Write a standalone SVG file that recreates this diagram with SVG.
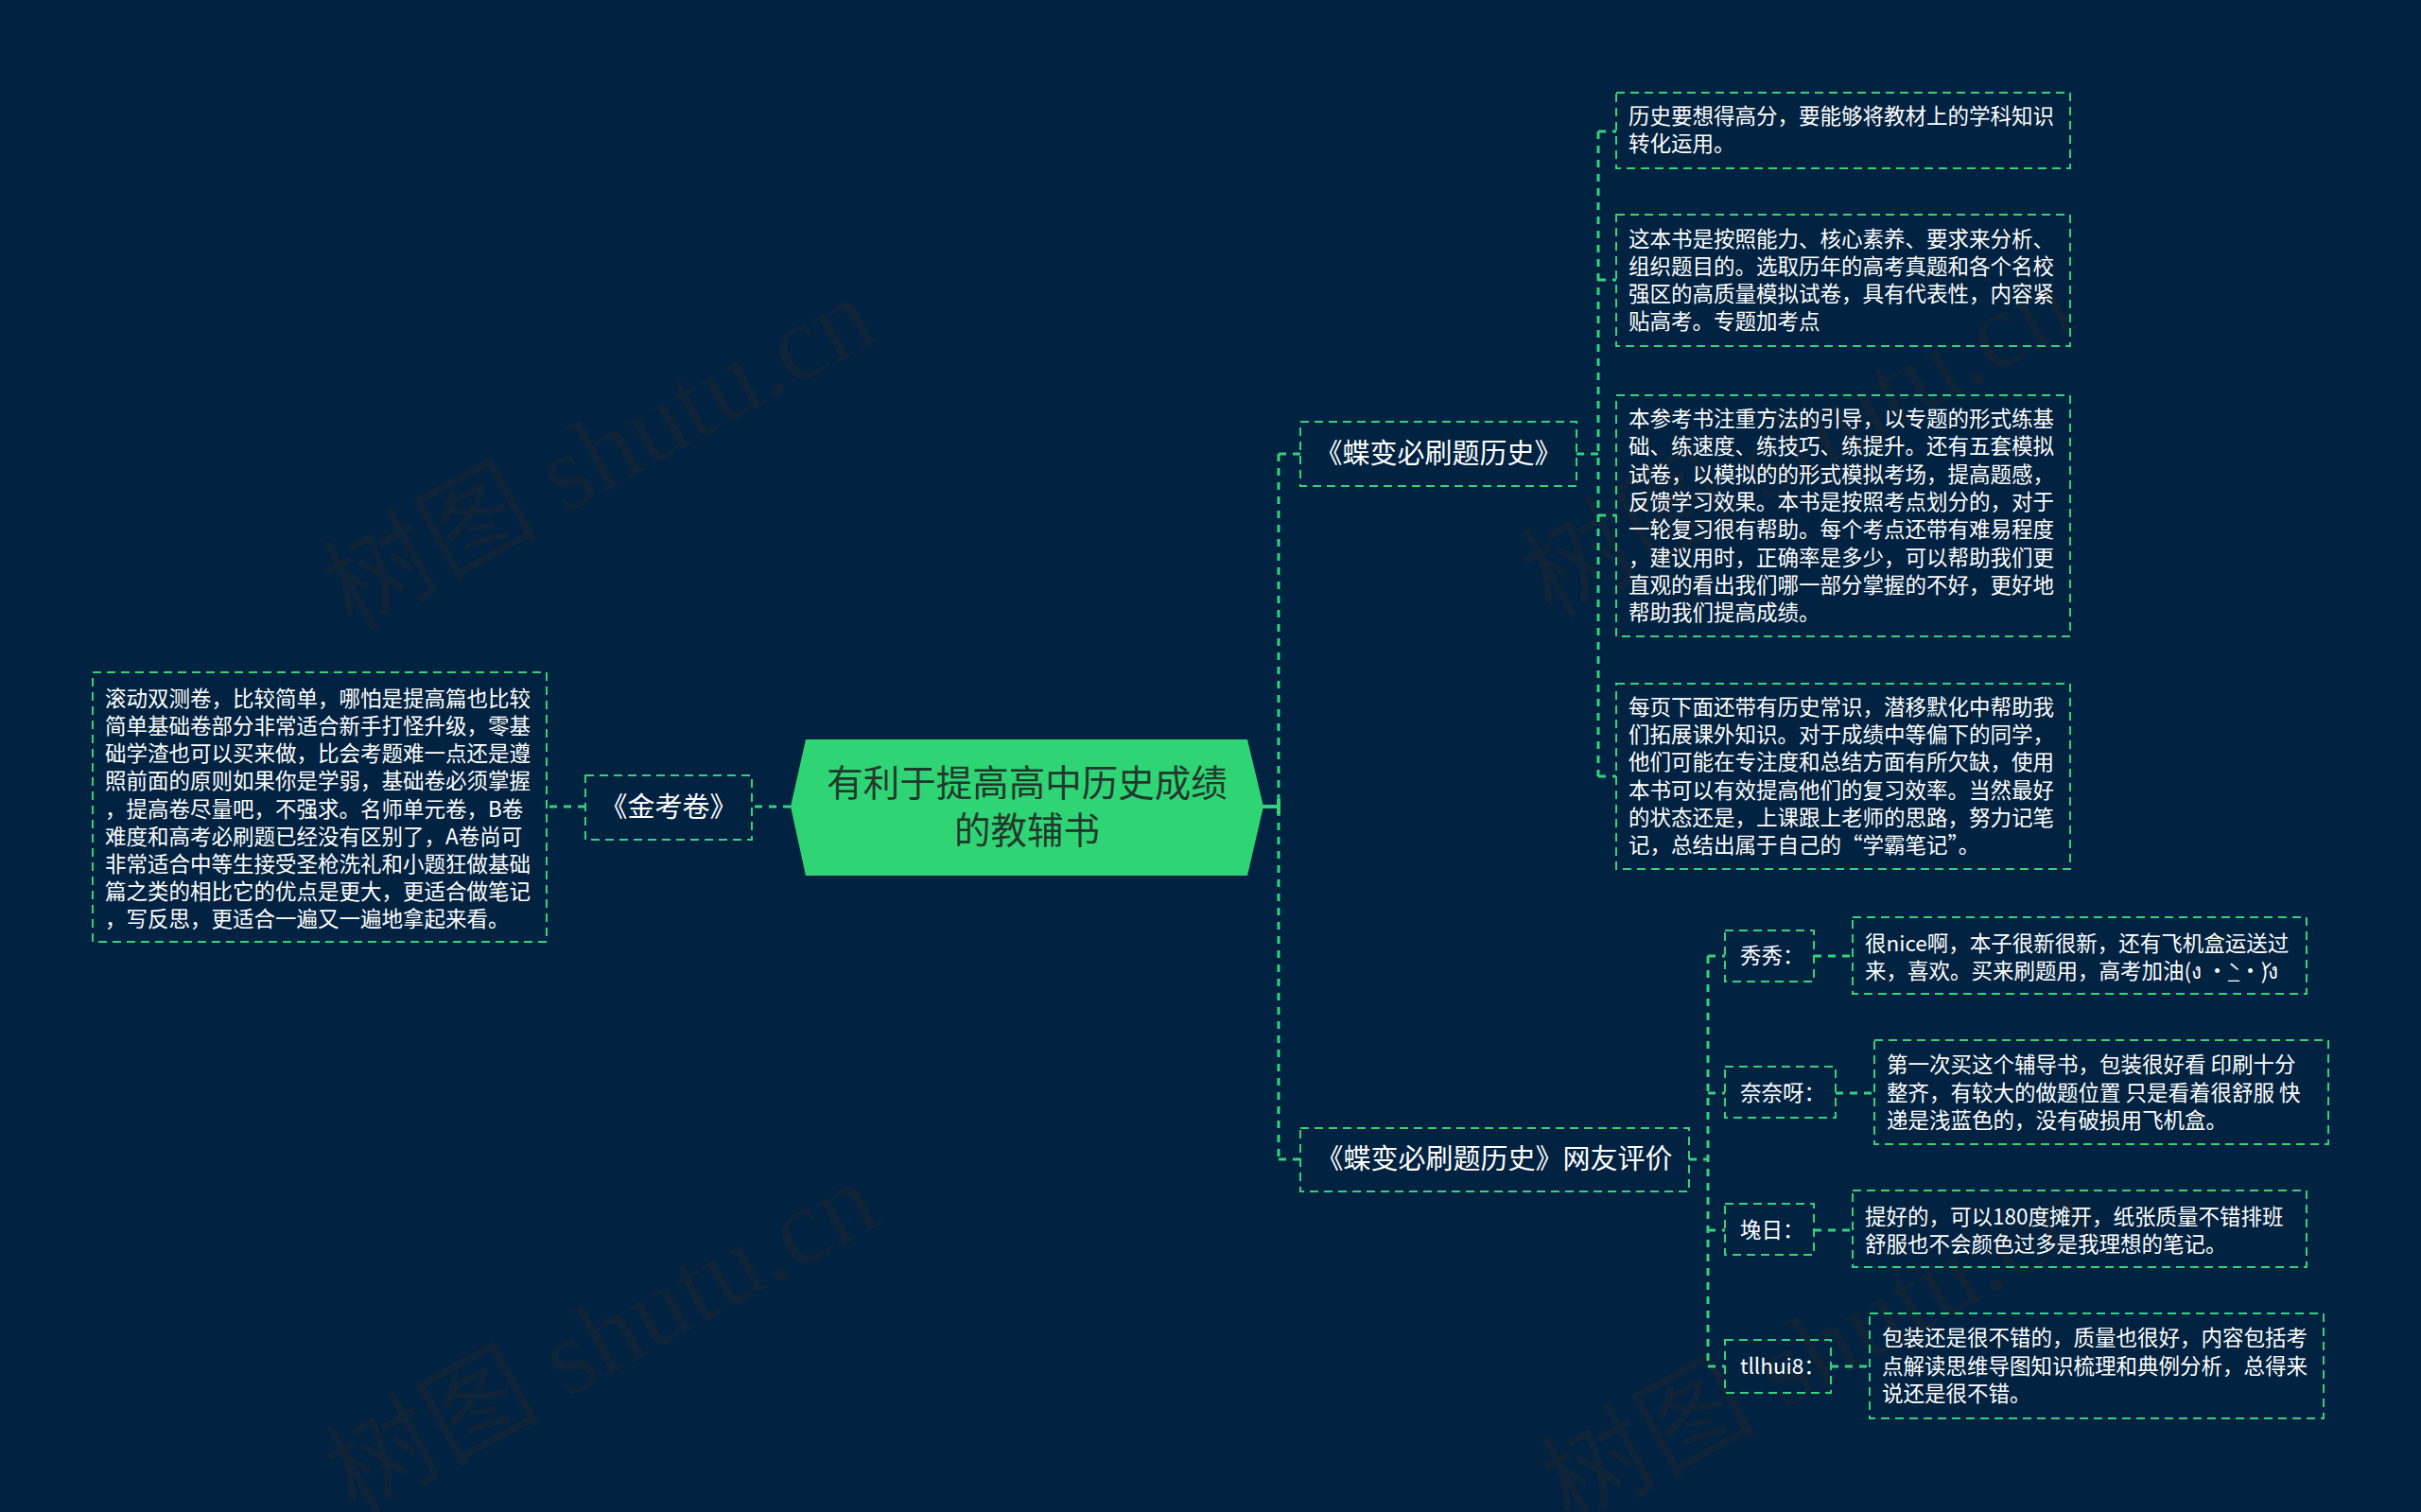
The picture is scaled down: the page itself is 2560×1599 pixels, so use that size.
<svg xmlns="http://www.w3.org/2000/svg" width="2560" height="1599" viewBox="0 0 2560 1599">
<style>
.bg{fill:#012240}
.wm{font-family:"Liberation Serif","Noto Sans CJK SC",serif;font-size:114px;fill:#0f2439}
.box{fill:none;stroke:#34d27b;stroke-width:2;stroke-dasharray:9 6}
.con{fill:none;stroke:#34d27b;stroke-width:3;stroke-dasharray:8 7}
.solid{fill:none;stroke:#34d27b;stroke-width:4}
.t{font-family:"Noto Sans CJK SC","Noto Sans",sans-serif;fill:#ffffff;font-size:22.5px}
.br{font-family:"Noto Sans CJK SC","Noto Sans",sans-serif;fill:#ffffff;font-size:29px;text-anchor:middle}
.root{font-family:"Noto Sans CJK SC","Noto Sans",sans-serif;fill:#22382d;font-size:38.5px;text-anchor:middle}
</style>
<rect class="bg" x="0" y="0" width="2560" height="1599"/>
<g id="watermarks">
<text class="wm" transform="translate(652,513) rotate(-29)" text-anchor="middle">树图 shutu.cn</text>
<text class="wm" transform="translate(1920,500) rotate(-29)" text-anchor="middle">树图 shutu.cn</text>
<text class="wm" transform="translate(655,1448) rotate(-29)" text-anchor="middle">树图 shutu.cn</text>
<text class="wm" transform="translate(1940,1460) rotate(-29)" text-anchor="middle">树图 shutu.cn</text>
</g>
<g id="connectors">
<path class="solid" d="M1334,853 H1352 M1352,845 V861"/>
<path class="con" d="M1352,480 V1226 M1352,480 H1375 M1352,1226 H1375"/>
<path class="con" d="M836,853 H795"/>
<path class="con" d="M619,853 H578"/>
<path class="con" d="M1667,480 H1690 M1690,139 V821 M1690,139 H1709 M1690,296 H1709 M1690,545 H1709 M1690,821 H1709"/>
<path class="con" d="M1786,1226 H1806 M1806,1011 V1445 M1806,1011 H1824 M1806,1156 H1824 M1806,1301 H1824 M1806,1445 H1824"/>
<path class="con" d="M1918,1011 H1959 M1941,1156 H1982 M1918,1301 H1959 M1936,1445 H1977"/>
</g>
<g id="root">
<polygon points="836,853 852,782 1319,782 1336,853 1319,926 852,926" fill="#2fd574"/>
<text class="root" x="1086" y="842">有利于提高高中历史成绩</text>
<text class="root" x="1086" y="892">的教辅书</text>
</g>
<g id="jinkaojuan">
<rect class="box" x="619" y="820" width="176" height="68"/>
<text class="br" x="707" y="864">《金考卷》</text>
</g>
<g id="jinkaojuan-leaf">
<rect class="box" x="98" y="711" width="480" height="285"/>
<text class="t" x="111" y="747">滚动双测卷，比较简单，哪怕是提高篇也比较</text>
<text class="t" x="111" y="776">简单基础卷部分非常适合新手打怪升级，零基</text>
<text class="t" x="111" y="805">础学渣也可以买来做，比会考题难一点还是遵</text>
<text class="t" x="111" y="834">照前面的原则如果你是学弱，基础卷必须掌握</text>
<text class="t" x="111" y="864">，提高卷尽量吧，不强求。名师单元卷，B卷</text>
<text class="t" x="111" y="893">难度和高考必刷题已经没有区别了，A卷尚可</text>
<text class="t" x="111" y="922">非常适合中等生接受圣枪洗礼和小题狂做基础</text>
<text class="t" x="111" y="951">篇之类的相比它的优点是更大，更适合做笔记</text>
<text class="t" x="111" y="980">，写反思，更适合一遍又一遍地拿起来看。</text>
</g>
<g id="branch1">
<rect class="box" x="1375" y="446" width="292" height="68"/>
<text class="br" x="1521" y="490">《蝶变必刷题历史》</text>
</g>
<g id="leaf1">
<rect class="box" x="1709" y="98" width="480" height="80"/>
<text class="t" x="1722" y="131">历史要想得高分，要能够将教材上的学科知识</text>
<text class="t" x="1722" y="160">转化运用。</text>
</g>
<g id="leaf2">
<rect class="box" x="1709" y="227" width="480" height="139"/>
<text class="t" x="1722" y="261">这本书是按照能力、核心素养、要求来分析、</text>
<text class="t" x="1722" y="290">组织题目的。选取历年的高考真题和各个名校</text>
<text class="t" x="1722" y="319">强区的高质量模拟试卷，具有代表性，内容紧</text>
<text class="t" x="1722" y="348">贴高考。专题加考点</text>
</g>
<g id="leaf3">
<rect class="box" x="1709" y="418" width="480" height="255"/>
<text class="t" x="1722" y="451">本参考书注重方法的引导，以专题的形式练基</text>
<text class="t" x="1722" y="480">础、练速度、练技巧、练提升。还有五套模拟</text>
<text class="t" x="1722" y="510">试卷，以模拟的的形式模拟考场，提高题感，</text>
<text class="t" x="1722" y="539">反馈学习效果。本书是按照考点划分的，对于</text>
<text class="t" x="1722" y="568">一轮复习很有帮助。每个考点还带有难易程度</text>
<text class="t" x="1722" y="598">，建议用时，正确率是多少，可以帮助我们更</text>
<text class="t" x="1722" y="627">直观的看出我们哪一部分掌握的不好，更好地</text>
<text class="t" x="1722" y="656">帮助我们提高成绩。</text>
</g>
<g id="leaf4">
<rect class="box" x="1709" y="723" width="480" height="196"/>
<text class="t" x="1722" y="756">每页下面还带有历史常识，潜移默化中帮助我</text>
<text class="t" x="1722" y="785">们拓展课外知识。对于成绩中等偏下的同学，</text>
<text class="t" x="1722" y="814">他们可能在专注度和总结方面有所欠缺，使用</text>
<text class="t" x="1722" y="844">本书可以有效提高他们的复习效率。当然最好</text>
<text class="t" x="1722" y="873">的状态还是，上课跟上老师的思路，努力记笔</text>
<text class="t" x="1722" y="902">记，总结出属于自己的“学霸笔记”。</text>
</g>
<g id="branch2">
<rect class="box" x="1375" y="1193" width="411" height="67"/>
<text class="br" x="1580" y="1236">《蝶变必刷题历史》网友评价</text>
</g>
<g id="user1">
<rect class="box" x="1824" y="984" width="94" height="54"/>
<text class="t" x="1840" y="1019">秀秀：</text>
</g>
<g id="user1-leaf">
<rect class="box" x="1959" y="970" width="480" height="81"/>
<text class="t" x="1972" y="1006">很nice啊，本子很新很新，还有飞机盒运送过</text>
<text class="t" x="1972" y="1035">来，喜欢。买来刷题用，高考加油(ง •̀_•́)ง</text>
</g>
<g id="user2">
<rect class="box" x="1824" y="1128" width="117" height="54"/>
<text class="t" x="1840" y="1164">奈奈呀：</text>
</g>
<g id="user2-leaf">
<rect class="box" x="1982" y="1100" width="480" height="110"/>
<text class="t" x="1995" y="1134">第一次买这个辅导书，包装很好看 印刷十分</text>
<text class="t" x="1995" y="1164">整齐，有较大的做题位置 只是看着很舒服 快</text>
<text class="t" x="1995" y="1193">递是浅蓝色的，没有破损用飞机盒。</text>
</g>
<g id="user3">
<rect class="box" x="1824" y="1273" width="94" height="54"/>
<text class="t" x="1840" y="1309">堍日：</text>
</g>
<g id="user3-leaf">
<rect class="box" x="1959" y="1259" width="480" height="81"/>
<text class="t" x="1972" y="1295">提好的，可以180度摊开，纸张质量不错排班</text>
<text class="t" x="1972" y="1324">舒服也不会颜色过多是我理想的笔记。</text>
</g>
<g id="user4">
<rect class="box" x="1824" y="1417" width="112" height="56"/>
<text class="t" x="1840" y="1453">tllhui8：</text>
</g>
<g id="user4-leaf">
<rect class="box" x="1977" y="1389" width="480" height="111"/>
<text class="t" x="1990" y="1423">包装还是很不错的，质量也很好，内容包括考</text>
<text class="t" x="1990" y="1453">点解读思维导图知识梳理和典例分析，总得来</text>
<text class="t" x="1990" y="1482">说还是很不错。</text>
</g>
</svg>
